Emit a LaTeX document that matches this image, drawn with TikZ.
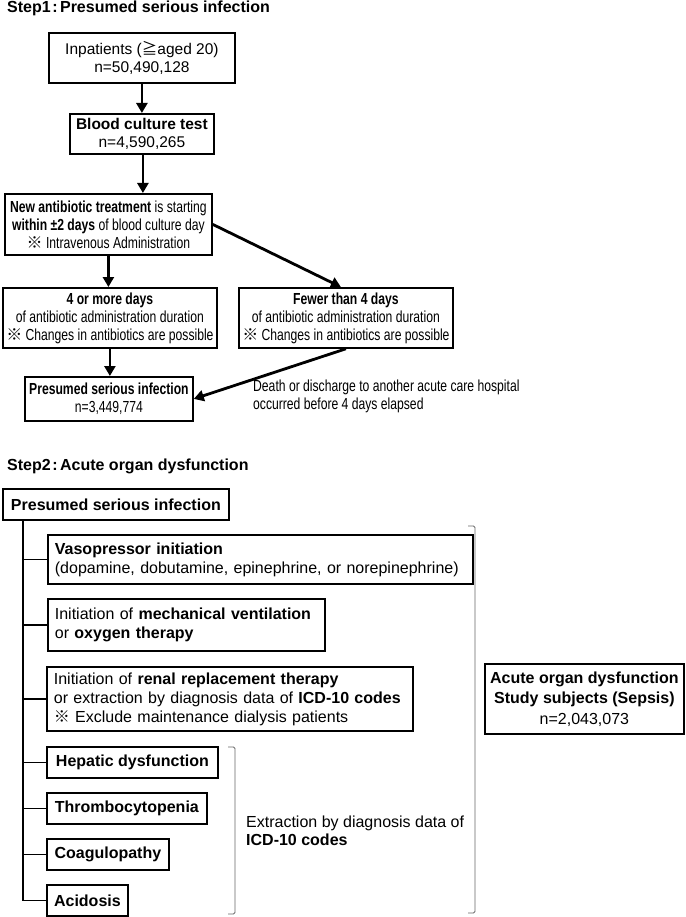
\documentclass[tikz,border=0pt]{standalone}
\usepackage{fontspec}
\setmainfont{Liberation Sans}
\newfontfamily\narrowfont[FakeStretch=0.76]{Liberation Sans}
\newfontfamily\cjkfont{Noto Sans CJK JP}
\usetikzlibrary{arrows.meta}
\newcommand{\refmark}{{\cjkfont ※}}
\newcommand{\mygeqq}{{\cjkfont ≧}}
\begin{document}
\begin{tikzpicture}[x=1pt,y=-1pt,
  boxA/.style={draw, line width=1.8pt, inner sep=0pt, align=center, anchor=north west,
    font=\narrowfont\fontsize{16}{18}\selectfont},
  boxW/.style={draw, line width=1.8pt, inner sep=0pt, align=center, anchor=north west,
    font=\fontsize{15.5}{18}\selectfont},
  boxB/.style={draw, line width=1.8pt, inner sep=0pt, align=center, anchor=north west,
    font=\fontsize{16}{19}\selectfont},
  boxL/.style={draw, line width=1.8pt, inner ysep=0pt, inner xsep=7pt, align=left, anchor=north west,
    font=\fontsize{16}{19}\selectfont},
  arr/.style={line width=2.8pt, -{Triangle[length=10pt,width=11pt]}},
  branch/.style={line width=1.8pt},
  brack/.style={line width=0.9pt, draw=black!60, rounded corners=1.5pt},
  hdr/.style={anchor=west, inner sep=0pt, font=\bfseries\fontsize{16}{19}\selectfont},
  plain/.style={anchor=west, inner sep=0pt, align=left},
]
\useasboundingbox (0,0) rectangle (685,917);

% ---------------- Step 1 ----------------
\node[hdr] (h1) at (7,8) {Step1\kern1.5pt:\kern2.5pt Presumed serious infection};

\node[boxW, minimum width=186pt, minimum height=50pt] (b1) at (48,32)
  {Inpatients (\mygeqq aged 20)\\n=50,490,128};
\node[boxW, minimum width=144pt, minimum height=40pt] (b2) at (69,113)
  {\textbf{Blood culture test}\\n=4,590,265};
\node[boxA, minimum width=207pt, minimum height=61pt] (b3) at (4,193)
  {\textbf{New antibiotic treatment} is starting\\
   \textbf{within} \textbf{±2 days} of blood culture day\\
   \refmark\ Intravenous Administration};
\node[boxA, minimum width=214pt, minimum height=60pt] (b4) at (2,287)
  {\textbf{4 or more days}\\of antibiotic administration duration\\
   \refmark\ Changes in antibiotics are possible};
\node[boxA, minimum width=214pt, minimum height=60pt] (b5) at (238,287)
  {\textbf{Fewer than 4 days}\\of antibiotic administration duration\\
   \refmark\ Changes in antibiotics are possible};
\node[boxA, minimum width=168pt, minimum height=44pt] (b6) at (24,376)
  {\textbf{Presumed serious infection}\\n=3,449,774};
\node[plain, font=\narrowfont\fontsize{16}{18}\selectfont] (lbl) at (253,396)
  {Death or discharge to another acute care hospital\\occurred before 4 days elapsed};

\draw[arr] (b1.south -| b2.north) -- (b2.north);
\draw[arr] ([xshift=1pt]b2.south) -- ([xshift=1pt]b2.south |- b3.north);
\draw[arr] (b3.south) -- (b3.south |- b4.north);
\draw[arr] (b3.east) -- ([xshift=-5pt]b5.north);
\draw[arr] (b4.south) -- (b4.south |- b6.north);
\draw[arr] (b5.south) -- (b6.east);

% ---------------- Step 2 ----------------
\node[hdr] (h2) at (7,466) {Step2\kern1.5pt:\kern2.5pt Acute organ dysfunction};

\node[boxB, minimum width=226pt, minimum height=31pt] (s0) at (2,488)
  {\textbf{Presumed serious infection}};
\node[boxL, text width=411pt, minimum height=49pt] (v) at (47,534)
  {\textbf{Vasopressor initiation}\\(dopamine, dobutamine, epinephrine, or norepinephrine)};
\node[boxL, text width=263pt, minimum height=52pt] (m) at (47,598)
  {Initiation of \textbf{mechanical ventilation}\\or \textbf{oxygen therapy}};
\node[boxL, text width=352pt, minimum height=64pt] (r) at (46,666)
  {Initiation of \textbf{renal replacement therapy}\\
   or extraction by diagnosis data of \textbf{ICD-10 codes}\\
   \refmark\ Exclude maintenance dialysis patients};
\node[boxB, minimum width=171pt, minimum height=31pt] (hp) at (46,746) {\textbf{Hepatic dysfunction}};
\node[boxB, minimum width=160pt, minimum height=31pt] (tc) at (46,792) {\textbf{Thrombocytopenia}};
\node[boxB, minimum width=122pt, minimum height=31pt] (cg) at (46,838) {\textbf{Coagulopathy}};
\node[boxB, minimum width=81pt, minimum height=31pt] (ac) at (46,884) {\textbf{Acidosis}};

\node[boxB, minimum width=199pt, minimum height=70pt, font=\fontsize{16}{20.5}\selectfont] (res) at (484,663)
  {\textbf{Acute organ dysfunction}\\\textbf{Study subjects (Sepsis)}\\n=2,043,073};

\node[plain, font=\fontsize{16}{18.5}\selectfont] (ext) at (246,831)
  {Extraction by diagnosis data of\\\textbf{ICD-10 codes}};

\coordinate (tt) at ([xshift=21pt]s0.south west);
\draw[branch] (tt) |- (ac.west);
\foreach \n in {v,m,r,hp,tc,cg} \draw[branch] (\n.west -| tt) -- (\n.west);

% brackets
\draw[brack] (228,747) -- (235,747) -- (235,914) -- (228,914);
\draw[brack] (468,526) -- (475,526) -- (475,913) -- (468,913);
\end{tikzpicture}
\end{document}
